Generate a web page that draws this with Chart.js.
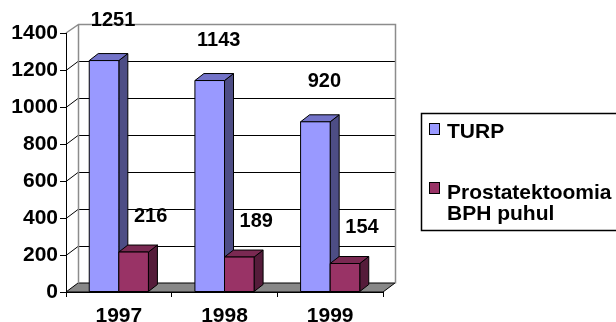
<!DOCTYPE html>
<html>
<head>
<meta charset="utf-8">
<script src="https://cdn.jsdelivr.net/npm/chart.js@4.4.1/dist/chart.umd.min.js"></script>
<style>
  html, body { margin: 0; padding: 0; background: #fff; }
  #wrap { width: 616px; height: 322px; }
</style>
</head>
<body>
<div id="wrap"><canvas id="chart" width="616" height="322"></canvas></div>
<script>
// ── data
const years = ['1997', '1998', '1999'];
const turpValues = [1251, 1143, 920];
const prostValues = [216, 189, 154];
const seriesLabels = [['TURP'], ['Prostatektoomia', 'BPH puhul']];
const yMax = 1400;
const yStep = 200;

// ── colours (front / side / top)
const faceColors = [
  { front: '#9999ff', side: '#4d4d85', top: '#7373c8' },
  { front: '#993366', side: '#551c3a', top: '#7a2952' }
];

// depth offsets: wall vs bars
const WALL_DX = 12, WALL_DY = 9;
const BAR_DX = 9, BAR_DY = 7;

const FONT = "'Liberation Sans', Arial, sans-serif";
Chart.defaults.font.family = FONT;
Chart.defaults.font.size = 21;
Chart.defaults.font.weight = 'bold';
Chart.defaults.color = '#000';

function px(v) { return Math.round(v) + 0.5; }

/* ── back wall, floor and connector lines (drawn before scales) */
const wallPlugin = {
  id: 'wall3d',
  beforeDraw(chart) {
    const { ctx, chartArea: a, scales: { y } } = chart;
    ctx.save();
    // floor
    ctx.beginPath();
    ctx.moveTo(a.left, a.bottom);
    ctx.lineTo(a.left + WALL_DX, a.bottom - WALL_DY);
    ctx.lineTo(a.right + WALL_DX, a.bottom - WALL_DY);
    ctx.lineTo(a.right, a.bottom);
    ctx.closePath();
    ctx.fillStyle = '#888';
    ctx.fill();
    ctx.strokeStyle = '#000';
    ctx.lineWidth = 1;
    ctx.stroke();

    // gridlines on the back wall + diagonals to the front axis
    for (let v = yStep; v < yMax; v += yStep) {
      const yy = y.getPixelForValue(v);
      ctx.beginPath();
      ctx.moveTo(a.left, px(yy));
      ctx.lineTo(a.left + WALL_DX, px(yy - WALL_DY));
      ctx.lineTo(a.right + WALL_DX, px(yy - WALL_DY));
      ctx.strokeStyle = '#000';
      ctx.stroke();
    }
    // wall outline
    ctx.beginPath();
    ctx.moveTo(a.left, a.top);
    ctx.lineTo(px(a.left + WALL_DX), px(a.top - WALL_DY));
    ctx.lineTo(px(a.right + WALL_DX), px(a.top - WALL_DY));
    ctx.lineTo(px(a.right + WALL_DX), px(a.bottom - WALL_DY));
    ctx.moveTo(px(a.left + WALL_DX), px(a.top - WALL_DY));
    ctx.lineTo(px(a.left + WALL_DX), px(a.bottom - WALL_DY));
    ctx.strokeStyle = '#8c8c8c';
    ctx.lineWidth = 1.5;
    ctx.stroke();
    ctx.restore();
  }
};

/* ── bars with side and top faces */
const barsPlugin = {
  id: 'bars3d',
  afterDatasetsDraw(chart) {
    const { ctx } = chart;
    const metas = chart.data.datasets.map((d, i) => chart.getDatasetMeta(i));
    ctx.save();
    ctx.strokeStyle = '#000';
    ctx.lineWidth = 1;
    ctx.lineJoin = 'round';
    years.forEach((_, idx) => {
      metas.forEach((meta, di) => {
        const bar = meta.data[idx];
        const { x, y, base, width } = bar.getProps(['x', 'y', 'base', 'width'], true);
        const l = x - width / 2, r = x + width / 2;
        const c = faceColors[di];
        // side
        ctx.beginPath();
        ctx.moveTo(r, y);
        ctx.lineTo(r + BAR_DX, y - BAR_DY);
        ctx.lineTo(r + BAR_DX, base - BAR_DY);
        ctx.lineTo(r, base);
        ctx.closePath();
        ctx.fillStyle = c.side; ctx.fill(); ctx.stroke();
        // top
        ctx.beginPath();
        ctx.moveTo(l, y);
        ctx.lineTo(l + BAR_DX, y - BAR_DY);
        ctx.lineTo(r + BAR_DX, y - BAR_DY);
        ctx.lineTo(r, y);
        ctx.closePath();
        ctx.fillStyle = c.top; ctx.fill(); ctx.stroke();
        // front
        ctx.beginPath();
        ctx.rect(l, y, width, base - y);
        ctx.fillStyle = c.front; ctx.fill(); ctx.stroke();
      });
    });
    ctx.restore();
  }
};

/* ── value labels + legend */
const labelOffsets = [{ dx: 9, dy: 40 }, { dx: 17, dy: 36 }];
const overlayPlugin = {
  id: 'overlay',
  afterDraw(chart) {
    const { ctx } = chart;
    ctx.save();
    ctx.font = `bold 20px ${FONT}`;
    ctx.fillStyle = '#000';
    ctx.textAlign = 'center';
    ctx.textBaseline = 'middle';
    chart.data.datasets.forEach((ds, di) => {
      chart.getDatasetMeta(di).data.forEach((bar, i) => {
        const o = labelOffsets[di];
        ctx.fillText(String(ds.data[i]), bar.x + o.dx, bar.y - o.dy);
      });
    });

    // legend
    ctx.strokeStyle = '#000';
    ctx.lineWidth = 1.5;
    ctx.strokeRect(421.5, 113.5, 210, 117);
    ctx.font = `bold 21px ${FONT}`;
    const rows = [{ mark: 123, base: [138] }, { mark: 182, base: [199, 220] }];
    ctx.textAlign = 'left';
    ctx.textBaseline = 'alphabetic';
    rows.forEach((row, i) => {
      ctx.fillStyle = faceColors[i].front;
      ctx.fillRect(429.5, row.mark + 0.5, 10, 11);
      ctx.lineWidth = 1;
      ctx.strokeRect(429.5, row.mark + 0.5, 10, 11);
      ctx.fillStyle = '#000';
      seriesLabels[i].forEach((t, k) => ctx.fillText(t, 447, row.base[k]));
    });
    ctx.restore();
  }
};

new Chart(document.getElementById('chart'), {
  type: 'bar',
  data: {
    labels: years,
    datasets: [
      { label: 'TURP', data: turpValues, backgroundColor: 'rgba(0,0,0,0)', borderWidth: 0 },
      { label: 'Prostatektoomia BPH puhul', data: prostValues, backgroundColor: 'rgba(0,0,0,0)', borderWidth: 0 }
    ]
  },
  options: {
    responsive: false,
    animation: false,
    events: [],
    layout: { padding: { top: 33, right: 233, left: 0, bottom: 0 } },
    datasets: { bar: { categoryPercentage: 0.56, barPercentage: 1 } },
    plugins: { legend: { display: false }, tooltip: { enabled: false } },
    scales: {
      x: {
        afterFit: s => { s.height = 30; },
        grid: { drawOnChartArea: false, tickLength: 5, color: '#000', offset: true },
        border: { color: '#000', width: 1 },
        ticks: { padding: 7, font: { size: 21, weight: 'bold' } }
      },
      y: {
        min: 0, max: yMax,
        afterFit: s => { s.width = 66; },
        grid: { drawOnChartArea: false, tickLength: 6, color: '#000' },
        border: { color: '#000', width: 1 },
        ticks: { stepSize: yStep, padding: 2, callback: v => String(v), font: { size: 21, weight: 'bold' } }
      }
    }
  },
  plugins: [wallPlugin, barsPlugin, overlayPlugin]
});
</script>
</body>
</html>
